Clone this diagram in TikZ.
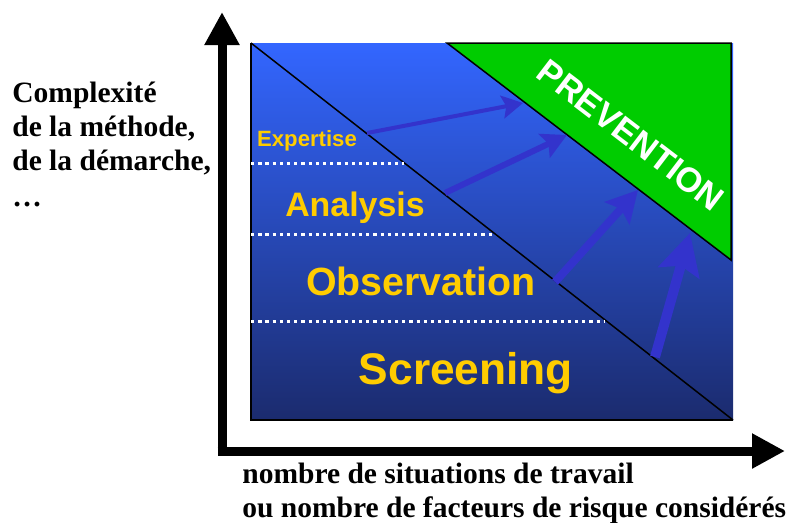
\documentclass[tikz,border=0pt]{standalone}
\usepackage{fontspec}
\setmainfont{Liberation Serif}
\newfontfamily\labelfont{Liberation Sans}
\usetikzlibrary{arrows.meta}
\definecolor{skyblue}{RGB}{51,102,255}
\definecolor{midblue}{RGB}{42,82,210}
\definecolor{navyblue}{RGB}{27,43,110}
\definecolor{prevgreen}{RGB}{0,204,0}
\definecolor{pushblue}{RGB}{51,51,204}
\definecolor{levelgold}{RGB}{255,204,0}
\begin{document}
\begin{tikzpicture}[
        x=0.02cm, y=-0.02cm,
        axis/.style={line width=0.18cm, -{Triangle[width=0.66cm,length=0.66cm]}},
        push/.style={draw=pushblue, fill=pushblue},
        level/.style={text=levelgold, inner sep=0pt, anchor=base},
        axtext/.style={font=\bfseries\fontsize{16.8}{20}\selectfont, inner sep=0pt, anchor=base west},
        sep/.style={white, line width=0.06cm, dash pattern=on 0.066cm off 0.078cm},
        border/.style={draw=black, line width=0.03cm},
    ]
    \useasboundingbox (0,0) rectangle (800,522);
    % frame of the levels
    \coordinate (tl) at (251,43);
    \coordinate (bl) at (251,420);
    \coordinate (br) at (733,420);
    \shade[top color=skyblue, middle color=midblue, bottom color=navyblue] (tl) rectangle (733,43 |- br);
    \draw[border] (tl) -- (bl) -- (br);
    \draw[border] (tl) -- (br);
    % prevention corner
    \coordinate (g1) at (447,43);
    \coordinate (g2) at (731,43);
    \coordinate (g3) at (731,260);
    \filldraw[border, fill=prevgreen] (g1) -- (g2) -- (g3) -- cycle;
    \node[text=white, inner sep=0pt, rotate=-37.4, font=\labelfont\bfseries\fontsize{19.6}{22}\selectfont] (prev) at (631,135) {PREVENTION};
    % level separators
    \coordinate (s1a) at (251,163); \coordinate (s1b) at (404,163);
    \coordinate (s2a) at (251,234); \coordinate (s2b) at (495,234);
    \coordinate (s3a) at (251,321); \coordinate (s3b) at (604,321);
    \draw[sep] (s1a) -- (s1b);
    \draw[sep] (s2a) -- (s2b);
    \draw[sep] (s3a) -- (s3b);
    % levels
    \node[level, font=\labelfont\bfseries\fontsize{12.6}{15}\selectfont] (expertise) at (307,146) {Expertise};
    \node[level, font=\labelfont\bfseries\fontsize{19.3}{23}\selectfont] (analysis) at (355,216) {Analysis};
    \node[level, font=\labelfont\bfseries\fontsize{22.4}{27}\selectfont] (observation) at (421,295) {Observation};
    \node[level, font=\labelfont\bfseries\fontsize{25.2}{30}\selectfont] (screening) at (466,384) {Screening};
    % arrows towards prevention
    \coordinate (p1a) at (367,133); \coordinate (p1b) at (523,103);
    \coordinate (p2a) at (445,193); \coordinate (p2b) at (567,135);
    \coordinate (p3a) at (555,282); \coordinate (p3b) at (638,190);
    \coordinate (p4a) at (655,357); \coordinate (p4b) at (690,233);
    \draw[push, line width=0.08cm, -{Stealth[width=0.46cm,length=0.42cm,inset=0.08cm]}] (p1a) -- (p1b);
    \draw[push, line width=0.12cm, -{Stealth[width=0.52cm,length=0.5cm,inset=0.09cm]}] (p2a) -- (p2b);
    \draw[push, line width=0.16cm, -{Stealth[width=0.66cm,length=0.62cm,inset=0.11cm]}] (p3a) -- (p3b);
    \draw[push, line width=0.2cm, -{Stealth[width=0.84cm,length=0.82cm,inset=0.14cm]}] (p4a) -- (p4b);
    % axes
    \coordinate (ybot) at (222,455.5);
    \coordinate (ytip) at (222,12);
    \coordinate (xbot) at (217.5,451);
    \coordinate (xtip) at (785,451);
    \draw[axis] (ybot) -- (ytip);
    \draw[axis] (xbot) -- (xtip);
    % axis titles
    \node[axtext] (c1) at (12,102) {Complexité};
    \node[axtext] (c2) at (12,136) {de la méthode,};
    \node[axtext] (c3) at (12,170) {de la démarche,};
    \node[axtext] (c4) at (12,206) {…};
    \node[axtext] (n1) at (242,483) {nombre de situations de travail};
    \node[axtext] (n2) at (242,517) {ou nombre de facteurs de risque considérés};
\end{tikzpicture}
\end{document}
